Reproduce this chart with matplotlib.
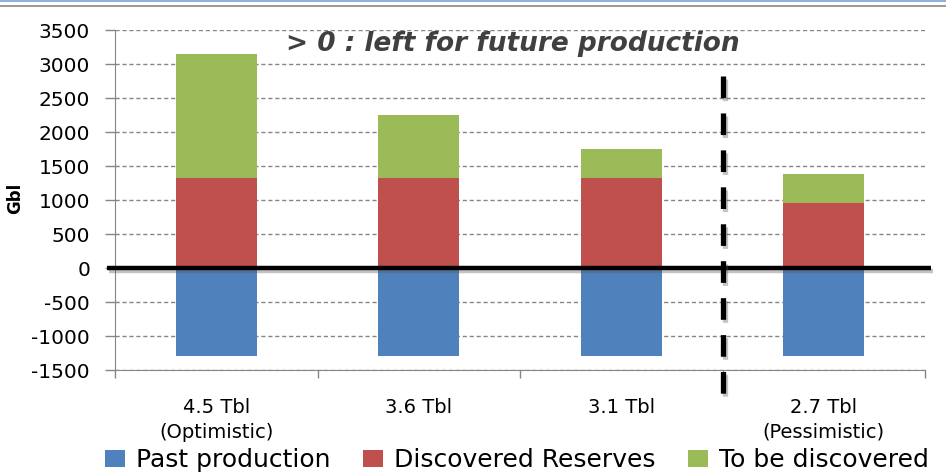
import matplotlib
matplotlib.use("Agg")
import matplotlib.pyplot as plt
import matplotlib.patheffects as pe
from matplotlib.patches import Rectangle
import numpy as np

# Data (Gbl)
scenarios = ["4.5 Tbl\n(Optimistic)", "3.6 Tbl", "3.1 Tbl", "2.7 Tbl\n(Pessimistic)"]
past_production = [-1300, -1300, -1300, -1300]
discovered_reserves = [1330, 1330, 1330, 950]
to_be_discovered = [1820, 920, 420, 430]
series_names = ["Past production", "Discovered Reserves", "To be discovered"]
series_colors = ["#4F81BD", "#C0504D", "#9BBB59"]
y_ticks = [-1500, -1000, -500, 0, 500, 1000, 1500, 2000, 2500, 3000, 3500]

W, H = 946, 473
fig = plt.figure(figsize=(W / 100, H / 100), dpi=100)
fig.patch.set_facecolor("white")

# slide header strips
fig.add_artist(Rectangle((0, 1 - 2.5 / H), 1, 2.5 / H, transform=fig.transFigure,
                         color="#8EB0DC", lw=0))
fig.add_artist(Rectangle((0, 1 - 7.5 / H), 1, 2.2 / H, transform=fig.transFigure,
                         color="#9A9A9A", lw=0))

ax = fig.add_axes([115 / W, 1 - 370 / H, 810 / W, 340 / H])
x = np.arange(len(scenarios))
width = 0.4

ax.bar(x, past_production, width, color=series_colors[0], label=series_names[0], zorder=3)
ax.bar(x, discovered_reserves, width, color=series_colors[1], label=series_names[1], zorder=3)
ax.bar(x, to_be_discovered, width, bottom=discovered_reserves, color=series_colors[2],
       label=series_names[2], zorder=3)

ax.set_xlim(-0.5, len(scenarios) - 0.5)
ax.set_ylim(-1500, 3500)
ax.set_yticks(y_ticks)
ax.set_yticklabels([str(v) for v in y_ticks], fontsize=14.5, family="DejaVu Sans")

ax.set_xticks(x)
ax.set_xticklabels(scenarios, fontsize=14, family="DejaVu Sans", linespacing=1.4)
ax.set_xticks(np.arange(len(scenarios) + 1) - 0.5, minor=True)
ax.tick_params(axis="x", which="major", length=0, pad=20)
ax.tick_params(axis="x", which="minor", length=6, color="#868686", width=1)
ax.tick_params(axis="y", length=7, color="#868686", width=1, pad=11)

ax.yaxis.grid(True, color="#868686", linestyle=(0, (3, 2)), linewidth=1.0, zorder=0)
ax.set_axisbelow(True)

for side in ["top", "right"]:
    ax.spines[side].set_visible(False)
ax.spines["left"].set_color("#868686")
ax.spines["bottom"].set_color("#868686")

fig.text(15 / W, 1 - 198 / H, "Gbl", fontsize=12, fontweight="bold", family="DejaVu Sans",
         rotation=90, ha="center", va="center")

shadow = [pe.SimpleLineShadow(offset=(1.5, -2), alpha=0.35, shadow_color="#555555"), pe.Normal()]

# zero line
ax.plot([-0.54, 3.53], [0, 0], color="black", lw=3.2, zorder=5, clip_on=False,
        solid_capstyle="butt", path_effects=shadow)

# scenario separator
ax.plot([2.5, 2.5], [2820, -1900], color="black", lw=3.8, zorder=6, clip_on=False,
        dashes=(4.1, 2.9), dash_capstyle="butt", path_effects=shadow)

fig.text(513 / W, 1 - 44 / H, "> 0 : left for future production", fontsize=19,
         fontweight="bold", fontstyle="italic", family="DejaVu Sans", color="#404040",
         ha="center", va="center")

fig.legend(loc="center", bbox_to_anchor=(517 / W, 1 - 460 / H), ncol=3, frameon=False,
           prop={"family": "DejaVu Sans", "size": 18}, handlelength=0.8, handleheight=0.65,
           handletextpad=0.45, columnspacing=1.3, borderpad=0, borderaxespad=0)

fig.savefig("out.png", dpi=100, facecolor="white")
